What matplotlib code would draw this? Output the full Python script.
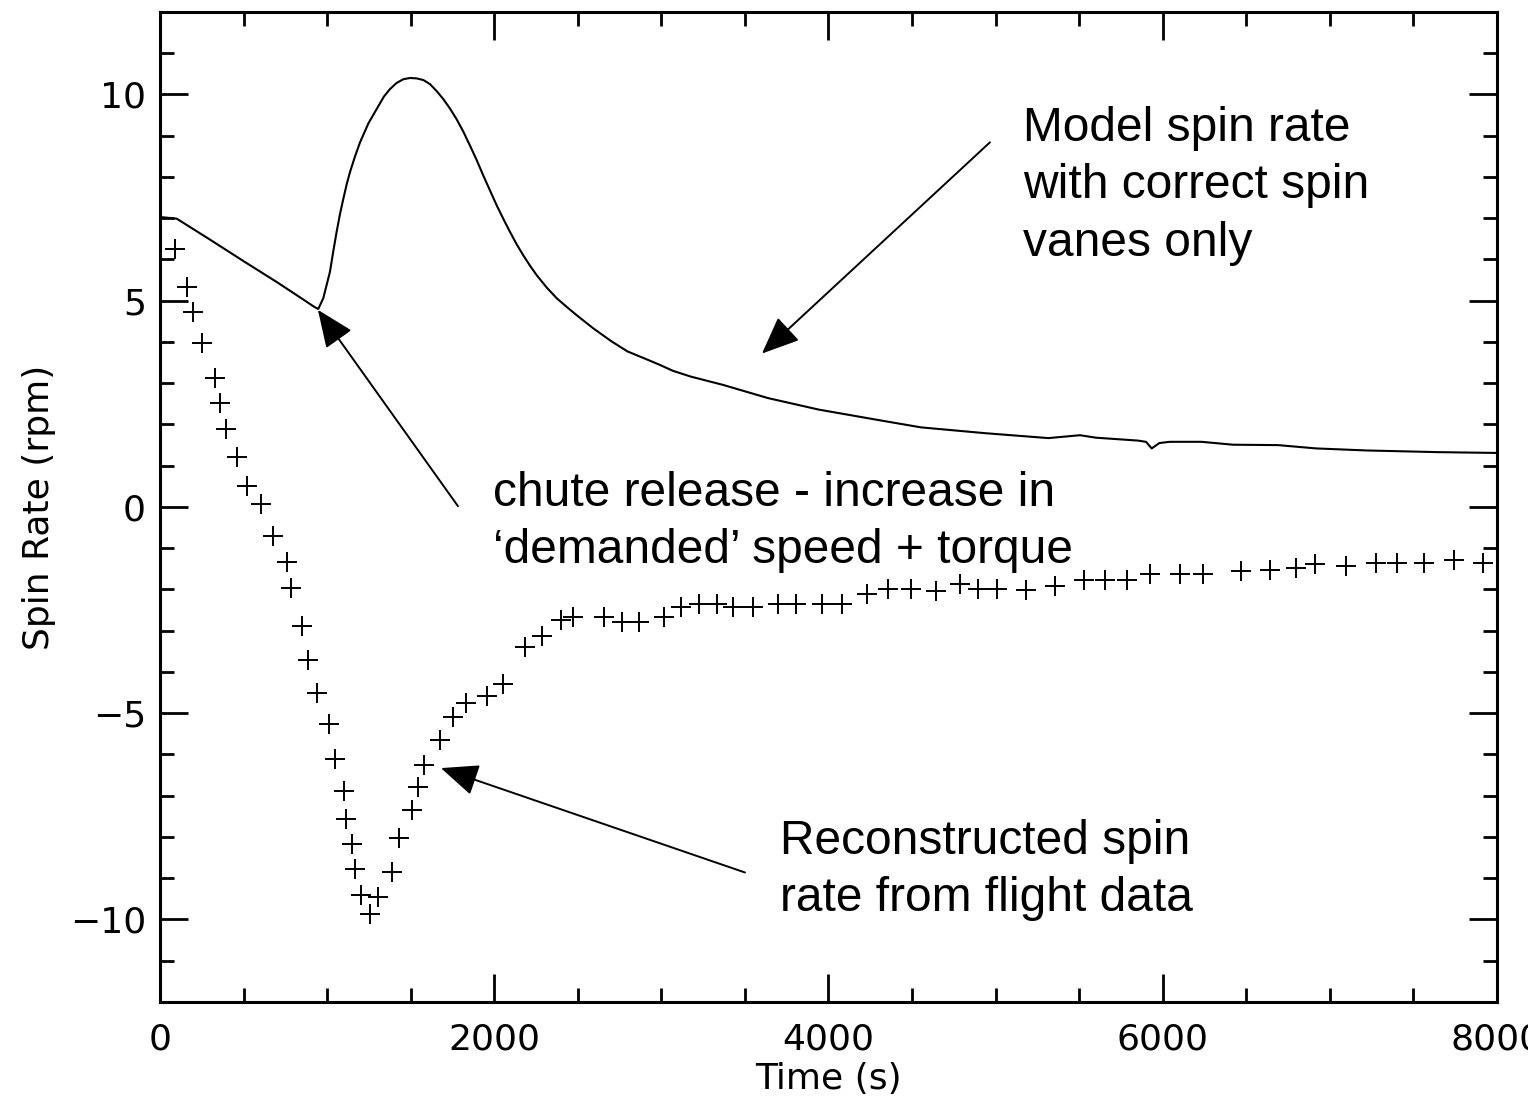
import numpy as np
import matplotlib.pyplot as plt
from matplotlib.ticker import MultipleLocator

# Model spin rate (solid line)
model_t = [0, 100, 300, 500, 700, 850, 920, 947, 977, 1017, 1037, 1057, 1077, 1097,
           1117, 1137, 1167, 1197, 1247, 1297, 1340, 1376, 1416, 1456, 1496, 1536,
           1576, 1616, 1656, 1695, 1735, 1775, 1815, 1855, 1895, 1934, 1975, 2015,
           2055, 2094, 2134, 2174, 2214, 2254, 2314, 2374, 2434, 2493, 2593, 2700,
           2798, 2900, 2988, 3070, 3177, 3369, 3638, 3943, 4324, 4554, 4935, 5316,
           5505, 5600, 5851, 5900, 5934, 5980, 6041, 6232, 6420, 6690, 6917, 7222,
           7644, 8000]
model_rate = [7.03, 6.99, 6.48, 5.96, 5.45, 5.05, 4.86, 4.80, 5.06, 5.70, 6.20, 6.67,
              7.10, 7.47, 7.82, 8.12, 8.50, 8.84, 9.30, 9.65, 9.95, 10.13, 10.28, 10.37,
              10.40, 10.39, 10.35, 10.25, 10.08, 9.89, 9.66, 9.40, 9.10, 8.76, 8.41,
              8.04, 7.67, 7.31, 6.98, 6.67, 6.37, 6.10, 5.85, 5.62, 5.32, 5.06, 4.85,
              4.65, 4.33, 4.02, 3.77, 3.60, 3.45, 3.30, 3.16, 2.96, 2.64, 2.36, 2.09,
              1.93, 1.79, 1.67, 1.74, 1.68, 1.61, 1.58, 1.42, 1.55, 1.58, 1.58, 1.51,
              1.50, 1.42, 1.37, 1.33, 1.31]

# Reconstructed spin rate from flight data (+ markers)
flight_t = [90, 163, 199, 250, 329, 359, 395, 463, 519, 603, 674, 762, 782, 852, 888,
            941, 1011, 1047, 1101, 1113, 1149, 1167, 1203, 1258, 1306, 1386, 1432, 1510,
            1546, 1580, 1675, 1754, 1829, 1955, 2050, 2186, 2285, 2402, 2474, 2658, 2764,
            2868, 3016, 3120, 3225, 3335, 3431, 3551, 3698, 3803, 3960, 4081, 4233, 4358,
            4495, 4642, 4789, 4894, 5007, 5180, 5355, 5528, 5653, 5788, 5926, 6103, 6238,
            6467, 6640, 6798, 6912, 7097, 7279, 7404, 7562, 7740, 7918]
flight_rate = [6.26, 5.34, 4.73, 3.97, 3.12, 2.52, 1.88, 1.21, 0.51, 0.07, -0.70, -1.33,
               -1.97, -2.89, -3.70, -4.50, -5.25, -6.10, -6.88, -7.56, -8.16, -8.77, -9.40,
               -9.86, -9.45, -8.85, -8.03, -7.34, -6.78, -6.26, -5.64, -5.09, -4.74, -4.57,
               -4.28, -3.40, -3.13, -2.73, -2.67, -2.67, -2.79, -2.79, -2.67, -2.43, -2.35,
               -2.35, -2.43, -2.43, -2.35, -2.35, -2.35, -2.35, -2.11, -1.99, -1.99, -2.03,
               -1.87, -1.99, -1.99, -2.01, -1.91, -1.77, -1.77, -1.77, -1.63, -1.63, -1.63,
               -1.55, -1.53, -1.47, -1.37, -1.43, -1.35, -1.35, -1.35, -1.29, -1.35]

notes = ["Model spin rate\nwith correct spin\nvanes only",
         "chute release - increase in\n\u2018demanded\u2019 speed + torque",
         "Reconstructed spin\nrate from flight data"]
note_xy = [(5164, 9.72), (1993, 0.87), (3710, -7.56)]
arrow_from = [(4966, 8.84), (1783, 0.02), (3500, -8.86)]
arrow_to = [(3602, 3.72), (945, 4.78), (1681, -6.33)]

fig = plt.figure(figsize=(15.28, 11), dpi=100)
ax = fig.add_axes([0.1047, 0.0891, 0.875, 0.9])

ax.plot(model_t, model_rate, color='black', lw=1.5)
ax.plot(flight_t, flight_rate, ls='none', marker='+', color='black', ms=15, mew=1.4)

ax.set_xlim(0, 8000)
ax.set_ylim(-12, 12)
ax.xaxis.set_major_locator(MultipleLocator(2000))
ax.xaxis.set_minor_locator(MultipleLocator(500))
ax.yaxis.set_major_locator(MultipleLocator(5))
ax.yaxis.set_minor_locator(MultipleLocator(1))
ax.tick_params(which='both', direction='in', top=True, right=True, width=2,
               labelsize=26)
ax.tick_params(which='major', length=20)
ax.tick_params(which='minor', length=10)
ax.tick_params(axis='x', pad=15)
ax.tick_params(axis='y', pad=10)
for s in ax.spines.values():
    s.set_linewidth(2.2)

ax.set_xlabel("Time (s)", fontsize=26, labelpad=4)
ax.set_ylabel("Spin Rate (rpm)", fontsize=26, labelpad=10)

for txt, xy in zip(notes, note_xy):
    ax.text(xy[0], xy[1], txt, fontsize=34.5, family='Liberation Sans',
            va='top', ha='left', linespacing=1.35)

for a, b in zip(arrow_from, arrow_to):
    ax.annotate("", xy=b, xytext=a,
                arrowprops=dict(arrowstyle='-|>,head_length=1.3,head_width=0.55',
                                color='black', lw=1.4, mutation_scale=18,
                                shrinkA=0, shrinkB=0))

fig.savefig("out.png", dpi=100)
